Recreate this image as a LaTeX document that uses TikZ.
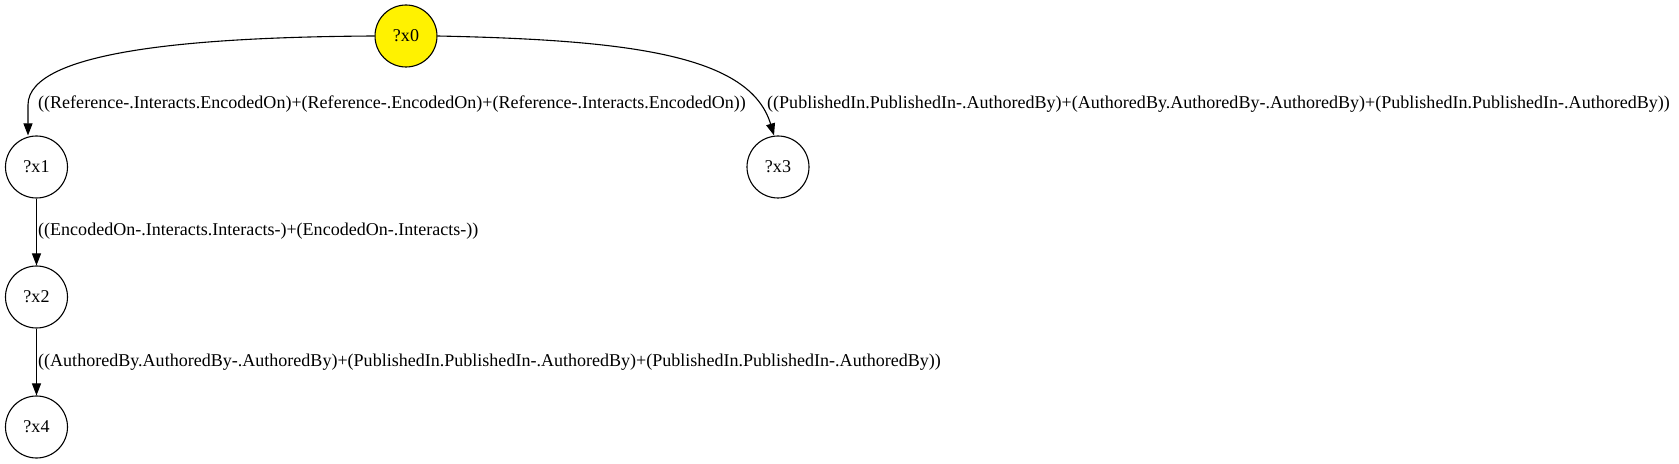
\documentclass[tikz,border=0pt]{standalone}
\usepackage{fontspec}
\setmainfont{Liberation Serif}
\usetikzlibrary{arrows.meta}
\begin{document}
\begin{tikzpicture}[x=1bp,y=-1bp,
  var/.style={circle,draw,line width=1.1bp,minimum size=62bp,inner sep=0pt,font=\fontsize{18.1}{21}\selectfont},
  lbl/.style={anchor=west,inner sep=0pt,font=\fontsize{18.1}{21}\selectfont},
  edge/.style={line width=1.1bp,-{Triangle[length=12bp,width=9bp]}}]
\useasboundingbox (0,0) rectangle (1679,464);
\node[var,fill=yellow] (x0) at (406,36) {?x0};
\node[var] (x1) at (36.5,167) {?x1};
\node[var] (x3) at (778,167) {?x3};
\node[var] (x2) at (36.5,297) {?x2};
\node[var] (x4) at (36.5,427) {?x4};
\draw[edge] (x0.west) .. controls (200,37) and (28,50) .. (28,105) -- (x1.north -| 28,0);
\draw[edge] (x0.east) .. controls (630,40) and (750,55) .. (x3.north -| 774,0);
\draw[edge] (x1) -- (x2);
\draw[edge] (x2) -- (x4);
\node[lbl] (l1) at (38,104) {((Reference-.Interacts.EncodedOn)+(Reference-.EncodedOn)+(Reference-.Interacts.EncodedOn))};
\node[lbl] (l3) at (767,104) {((PublishedIn.PublishedIn-.AuthoredBy)+(AuthoredBy.AuthoredBy-.AuthoredBy)+(PublishedIn.PublishedIn-.AuthoredBy))};
\node[lbl] (l2) at (38,231) {((EncodedOn-.Interacts.Interacts-)+(EncodedOn-.Interacts-))};
\node[lbl] (l4) at (38,362) {((AuthoredBy.AuthoredBy-.AuthoredBy)+(PublishedIn.PublishedIn-.AuthoredBy)+(PublishedIn.PublishedIn-.AuthoredBy))};
\end{tikzpicture}
\end{document}
